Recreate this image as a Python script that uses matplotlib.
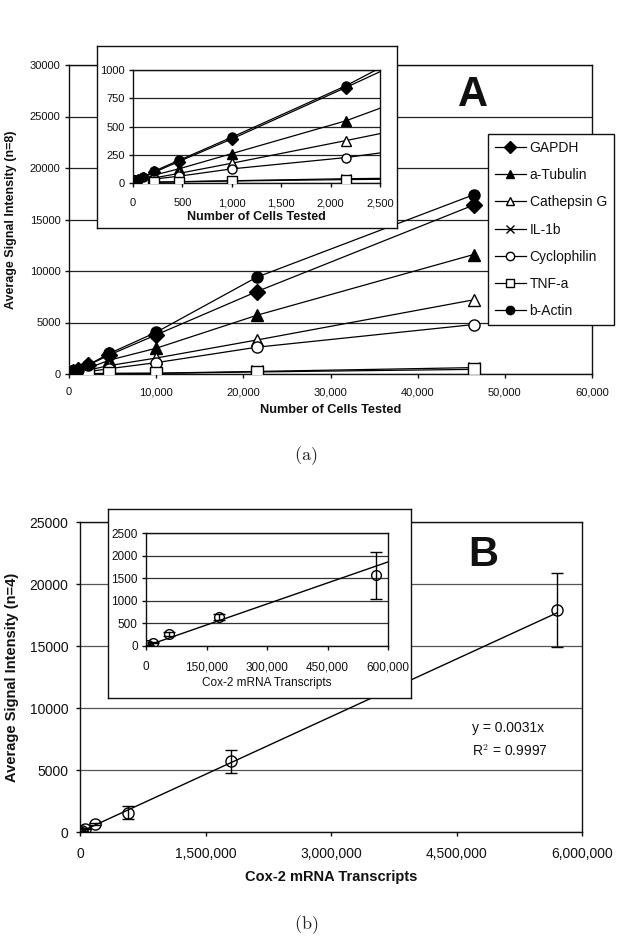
import matplotlib
matplotlib.use('Agg')
import matplotlib.pyplot as plt
import numpy as np
from matplotlib.ticker import FuncFormatter, MultipleLocator

plt.rcParams['font.family'] = ['Liberation Sans', 'DejaVu Sans']
plt.rcParams['mathtext.fontset'] = 'cm'

# ---------------- Data: panel A ----------------
cells = [10, 22, 46, 100, 215, 464, 1000, 2154, 4642, 10000, 21544, 46416]
gapdh = [15, 20, 28, 45, 95, 190, 390, 845, 1850, 3800, 8000, 16400]
a_tubulin = [10, 15, 20, 35, 70, 125, 260, 550, 1350, 2500, 5700, 11600]
cathepsin_g = [5, 8, 12, 20, 45, 85, 175, 375, 820, 1550, 3300, 7200]
il_1b = [2, 3, 4, 5, 8, 12, 20, 38, 60, 80, 250, 620]
cyclophilin = [5, 8, 10, 15, 35, 60, 125, 225, 520, 1100, 2600, 4800]
tnf_a = [1, 2, 3, 4, 6, 10, 18, 30, 50, 60, 200, 450]
b_actin = [20, 25, 30, 50, 105, 200, 405, 860, 2000, 4050, 9400, 17400]

series_names = ["GAPDH", "a-Tubulin", "Cathepsin G", "IL-1b", "Cyclophilin", "TNF-a", "b-Actin"]
series_vals = [gapdh, a_tubulin, cathepsin_g, il_1b, cyclophilin, tnf_a, b_actin]
series_markers = ['D', '^', '^', 'x', 'o', 's', 'o']
series_filled = [True, True, False, True, False, False, True]

# ---------------- Data: panel B ----------------
cox_x = [5700, 18000, 57000, 180000, 570000, 1800000, 5700000]
cox_y = [15, 75, 270, 640, 1560, 5700, 17900]
cox_err = [5, 15, 40, 70, 520, 930, 2950]
fit_slope = 0.0031
fit_r2 = 0.9997

W, H = 627, 942
fig = plt.figure(figsize=(W / 100, H / 100), dpi=100)


def rect(l, t, r, b):
    return [l / W, 1 - b / H, (r - l) / W, (b - t) / H]


comma = FuncFormatter(lambda v, p: f"{int(round(v)):,}")
plain = FuncFormatter(lambda v, p: f"{int(round(v))}")
TXT = '#111111'


def style_axes(ax, labelsize, xpad, ypad, gridcolor, gridlw=0.9):
    for s in ax.spines.values():
        s.set_linewidth(1.0)
        s.set_color('#111111')
    ax.tick_params(direction='out', length=3, width=1, labelsize=labelsize, colors=TXT)
    ax.tick_params(axis='x', pad=xpad)
    ax.tick_params(axis='y', pad=ypad)
    ax.yaxis.grid(True, color=gridcolor, lw=gridlw)
    ax.set_axisbelow(True)


def draw_series(ax, ms, lw):
    handles = []
    for name, vals, mk, filled in zip(series_names, series_vals, series_markers, series_filled):
        h, = ax.plot(cells, vals, color='black', lw=lw, marker=mk, ms=ms,
                     mfc='black' if filled else 'white', mec='black', mew=1.0,
                     label=name, clip_on=True, zorder=3)
        handles.append(h)
    return handles


# ---------------- Panel A main ----------------
axA = fig.add_axes(rect(69, 65, 592, 374))
style_axes(axA, 8, 6.5, 3, '#222222')
handles = draw_series(axA, 8, 0.9)
axA.set_xlim(0, 60000)
axA.set_ylim(0, 30000)
axA.xaxis.set_major_locator(MultipleLocator(10000))
axA.yaxis.set_major_locator(MultipleLocator(5000))
axA.xaxis.set_major_formatter(comma)
axA.yaxis.set_major_formatter(plain)
axA.set_xlabel('Number of Cells Tested', fontsize=9.2, fontweight='bold', color=TXT)
axA.xaxis.set_label_coords(0.5, (374 - 410) / 309)
axA.xaxis.label.set_va('center')
axA.set_ylabel('Average Signal Intensity (n=8)', fontsize=9, fontweight='bold', color=TXT)
axA.yaxis.set_label_coords((11 - 69) / 523, 0.5)
axA.yaxis.label.set_va('center')

# inset A box
boxA = fig.add_axes(rect(97, 46, 397, 228))
boxA.set_xticks([])
boxA.set_yticks([])
boxA.set_facecolor('white')
for s in boxA.spines.values():
    s.set_linewidth(1.0)
    s.set_color('#111111')

axAi = fig.add_axes(rect(133, 70, 380, 183))
style_axes(axAi, 8, 8, 3, '#222222')
draw_series(axAi, 6.5, 0.9)
axAi.set_xlim(0, 2500)
axAi.set_ylim(0, 1000)
axAi.xaxis.set_major_locator(MultipleLocator(500))
axAi.yaxis.set_major_locator(MultipleLocator(250))
axAi.xaxis.set_major_formatter(comma)
axAi.yaxis.set_major_formatter(plain)
axAi.set_xlabel('Number of Cells Tested', fontsize=9, fontweight='bold', color=TXT)
axAi.xaxis.set_label_coords(0.5, (183 - 217) / 113)
axAi.xaxis.label.set_va('center')

fig.text(473 / W, 1 - 95 / H, 'A', fontsize=30, fontweight='bold', ha='center', va='center', color=TXT)

leg = fig.legend(handles, series_names, loc='upper left', bbox_to_anchor=(488 / W, 1 - 134 / H),
                 bbox_transform=fig.transFigure, frameon=True, fancybox=False, edgecolor='#111111',
                 framealpha=1, fontsize=10, labelspacing=0.95, handlelength=2.2,
                 handletextpad=0.3, borderpad=0.5, borderaxespad=0, markerscale=0.75)
leg.get_frame().set_linewidth(1.0)
for t in leg.get_texts():
    t.set_color(TXT)

fig.text(306 / W, 1 - 456 / H, r'$\mathrm{(a)}$', fontsize=13, ha='center', va='center', color='#222222')

# ---------------- Panel B main ----------------
axB = fig.add_axes(rect(80, 522, 582, 832))
style_axes(axB, 10, 8, 5.5, '#555555')
fit_x = np.array([0, max(cox_x)])
axB.plot(fit_x, fit_slope * fit_x, color='black', lw=1.0, zorder=2)
axB.errorbar(cox_x, cox_y, yerr=cox_err, fmt='o', ms=8, mfc='none', mec='black', mew=1.0,
             ecolor='black', elinewidth=1.0, capsize=4, capthick=1.0, zorder=3)
axB.set_xlim(0, 6000000)
axB.set_ylim(0, 25000)
axB.xaxis.set_major_locator(MultipleLocator(1500000))
axB.yaxis.set_major_locator(MultipleLocator(5000))
axB.xaxis.set_major_formatter(comma)
axB.yaxis.set_major_formatter(plain)
axB.set_xlabel('Cox-2 mRNA Transcripts', fontsize=10.5, fontweight='bold', color=TXT)
axB.xaxis.set_label_coords(0.5, (832 - 877) / 310)
axB.xaxis.label.set_va('center')
axB.set_ylabel('Average Signal Intensity (n=4)', fontsize=10.5, fontweight='bold', color=TXT)
axB.yaxis.set_label_coords((12 - 80) / 502, 0.5)
axB.yaxis.label.set_va('center')

fig.text(472 / W, 1 - 728 / H, f'y = {fit_slope}x', fontsize=10, ha='left', va='center', color=TXT)
fig.text(472 / W, 1 - 751 / H, f'R$^{{2}}$ = {fit_r2}', fontsize=10, ha='left', va='center', color=TXT)

# inset B box
boxB = fig.add_axes(rect(108, 509, 411, 698))
boxB.set_xticks([])
boxB.set_yticks([])
boxB.set_facecolor('white')
for s in boxB.spines.values():
    s.set_linewidth(1.0)
    s.set_color('#111111')

axBi = fig.add_axes(rect(146, 533, 388, 646))
style_axes(axBi, 8.5, 8, 3, '#333333')
axBi.plot(fit_x, fit_slope * fit_x, color='black', lw=1.0, zorder=2)
axBi.errorbar(cox_x, cox_y, yerr=cox_err, fmt='o', ms=7, mfc='none', mec='black', mew=1.0,
              ecolor='black', elinewidth=1.0, capsize=4, capthick=1.0, zorder=3)
axBi.set_xlim(0, 600000)
axBi.set_ylim(0, 2500)
axBi.xaxis.set_major_locator(MultipleLocator(150000))
axBi.yaxis.set_major_locator(MultipleLocator(500))
axBi.xaxis.set_major_formatter(comma)
axBi.yaxis.set_major_formatter(plain)
axBi.set_xlabel('Cox-2 mRNA Transcripts', fontsize=8.5, color=TXT)
axBi.xaxis.set_label_coords(0.5, (646 - 683) / 113)
axBi.xaxis.label.set_va('center')

fig.text(483 / W, 1 - 555 / H, 'B', fontsize=30, fontweight='bold', ha='center', va='center', color=TXT)

fig.text(306 / W, 1 - 925 / H, r'$\mathrm{(b)}$', fontsize=13, ha='center', va='center', color='#222222')

fig.savefig('out.png', dpi=100)
